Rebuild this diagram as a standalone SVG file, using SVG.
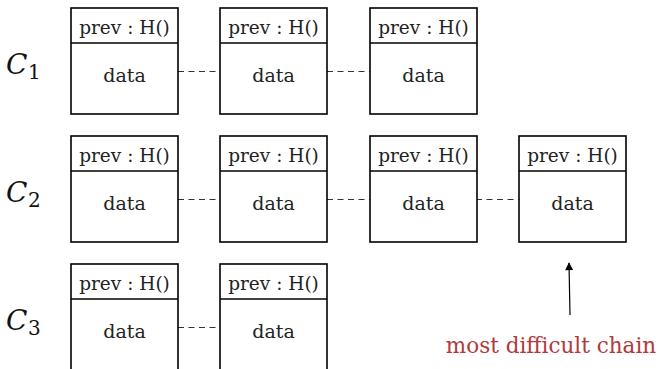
<svg xmlns="http://www.w3.org/2000/svg" width="658" height="369" viewBox="0 0 658 369">
<style>
.box{fill:#fff;stroke:#000;stroke-width:1.6}
.div{stroke:#000;stroke-width:1.6}
.sf{font-family:"DejaVu Serif","Liberation Serif",serif}
.hd{font-size:18.5px;text-anchor:middle;fill:#222}
.dt{font-size:19px;text-anchor:middle;fill:#222}
.cl{font-size:28px;font-style:italic;fill:#111}
.sub{font-size:20px;fill:#111}
.dash{stroke:#333;stroke-width:1.2;stroke-dasharray:6 4.5;fill:none}
</style>
<defs>
<marker id="ah" viewBox="0 0 10 10" refX="9" refY="5" markerWidth="10" markerHeight="8" markerUnits="userSpaceOnUse" orient="auto">
<path d="M0,0 L10,5 L0,10 z" fill="#000"/>
</marker>
</defs>
<g id="labels">
<text class="sf cl" x="6" y="74">C</text><text class="sf sub" x="28" y="79">1</text>
<text class="sf cl" x="6" y="202">C</text><text class="sf sub" x="28" y="207">2</text>
<text class="sf cl" x="6" y="330">C</text><text class="sf sub" x="28" y="335">3</text>
</g>
<g id="connectors">
<line class="dash" x1="178" y1="71.5" x2="220" y2="71.5"/>
<line class="dash" x1="327" y1="71.5" x2="370" y2="71.5"/>
<line class="dash" x1="178" y1="199.5" x2="220" y2="199.5"/>
<line class="dash" x1="327" y1="199.5" x2="370" y2="199.5"/>
<line class="dash" x1="476" y1="199.5" x2="519" y2="199.5"/>
<line class="dash" x1="178" y1="327.5" x2="220" y2="327.5"/>
<line x1="570" y1="315" x2="569" y2="263" stroke="#000" stroke-width="1.2" marker-end="url(#ah)"/>
</g>
<g id="c1n1" transform="translate(71,8)"><rect class="box" width="107" height="106"/><line class="div" x1="0" y1="35" x2="107" y2="35"/><text class="sf hd" x="53.5" y="25.5">prev : H()</text><text class="sf dt" x="53.5" y="73.5">data</text></g>
<g id="c1n2" transform="translate(220,8)"><rect class="box" width="107" height="106"/><line class="div" x1="0" y1="35" x2="107" y2="35"/><text class="sf hd" x="53.5" y="25.5">prev : H()</text><text class="sf dt" x="53.5" y="73.5">data</text></g>
<g id="c1n3" transform="translate(370,8)"><rect class="box" width="107" height="106"/><line class="div" x1="0" y1="35" x2="107" y2="35"/><text class="sf hd" x="53.5" y="25.5">prev : H()</text><text class="sf dt" x="53.5" y="73.5">data</text></g>
<g id="c2n1" transform="translate(71,136)"><rect class="box" width="107" height="106"/><line class="div" x1="0" y1="35" x2="107" y2="35"/><text class="sf hd" x="53.5" y="25.5">prev : H()</text><text class="sf dt" x="53.5" y="73.5">data</text></g>
<g id="c2n2" transform="translate(220,136)"><rect class="box" width="107" height="106"/><line class="div" x1="0" y1="35" x2="107" y2="35"/><text class="sf hd" x="53.5" y="25.5">prev : H()</text><text class="sf dt" x="53.5" y="73.5">data</text></g>
<g id="c2n3" transform="translate(370,136)"><rect class="box" width="107" height="106"/><line class="div" x1="0" y1="35" x2="107" y2="35"/><text class="sf hd" x="53.5" y="25.5">prev : H()</text><text class="sf dt" x="53.5" y="73.5">data</text></g>
<g id="c2n4" transform="translate(519,136)"><rect class="box" width="107" height="106"/><line class="div" x1="0" y1="35" x2="107" y2="35"/><text class="sf hd" x="53.5" y="25.5">prev : H()</text><text class="sf dt" x="53.5" y="73.5">data</text></g>
<g id="c3n1" transform="translate(71,264)"><rect class="box" width="107" height="106"/><line class="div" x1="0" y1="35" x2="107" y2="35"/><text class="sf hd" x="53.5" y="25.5">prev : H()</text><text class="sf dt" x="53.5" y="73.5">data</text></g>
<g id="c3n2" transform="translate(220,264)"><rect class="box" width="107" height="106"/><line class="div" x1="0" y1="35" x2="107" y2="35"/><text class="sf hd" x="53.5" y="25.5">prev : H()</text><text class="sf dt" x="53.5" y="73.5">data</text></g>
<g id="note"><text class="sf" x="551" y="353" font-size="21.5" fill="#b03a3a" text-anchor="middle">most difficult chain</text></g>
</svg>
